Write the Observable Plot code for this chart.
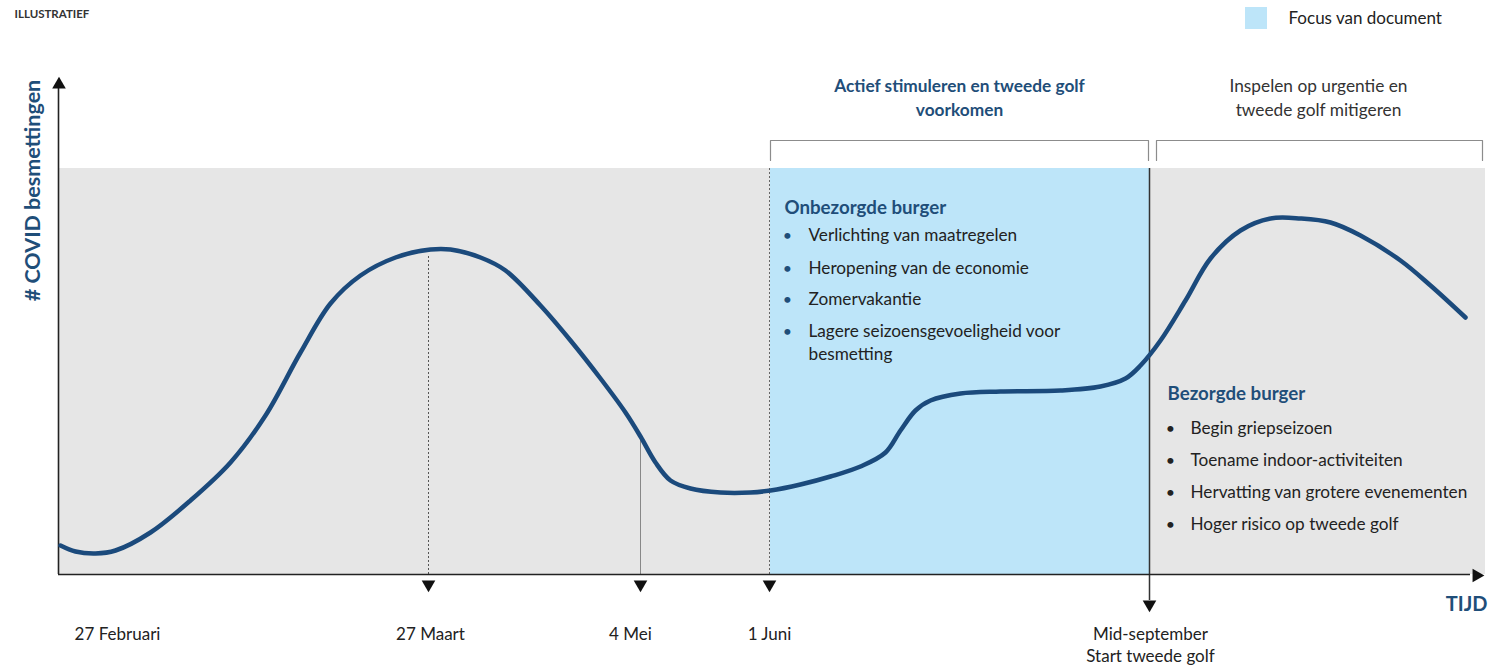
<!DOCTYPE html>
<html>
<head>
<meta charset="utf-8">
<script src="https://cdn.jsdelivr.net/npm/d3@7"></script>
<script src="https://cdn.jsdelivr.net/npm/@observablehq/plot@0.6"></script>
<style>
  html, body { margin: 0; padding: 0; background: #fff; }
  #chart svg { display: block; }
</style>
</head>
<body>
<div id="chart"></div>
<script>
// Illustrative curve (time index, # COVID infections, arbitrary units)
const curveT = [2, 17, 37, 57, 92, 132, 172, 207, 242, 272, 302, 337, 372, 392, 422, 447, 482, 512, 542, 567, 582, 597, 612, 632, 662, 692, 712, 742, 772, 802, 827, 842, 857, 872, 902, 942, 1002, 1042, 1067, 1082, 1102, 1127, 1152, 1182, 1212, 1242, 1272, 1302, 1342, 1372, 1407];
const curveV = [29, 23, 21, 24, 42, 74, 112, 159, 222, 271, 299, 317, 325, 325, 317, 304, 269, 234, 196, 162, 138, 112, 94, 86, 82, 82, 84, 90, 98, 108, 122, 144, 164, 174, 181, 183, 184, 188, 196, 209, 234, 274, 316, 344, 356, 356, 352, 339, 314, 289, 257];

// Milestones on the time axis
const milestoneLabels = ["27 Februari", "27 Maart", "4 Mei", "1 Juni", "Mid-september"];
const milestoneT = [59, 370, 582, 711, 1091];
const milestoneLabelT = [59, 372, 572, 711, 1092];

// Phases
const focusStart = 712, focusEnd = 1092, timeEnd = 1427, bgTop = 406;
const phaseTitles = [["Actief stimuleren en tweede golf", "voorkomen"], ["Inspelen op urgentie en", "tweede golf mitigeren"]];
const groupTitles = ["Onbezorgde burger", "Bezorgde burger"];
const bullets1 = ["Verlichting van maatregelen", "Heropening van de economie", "Zomervakantie", "Lagere seizoensgevoeligheid voor"];
const bullets1cont = ["besmetting"];
const bullets2 = ["Begin griepseizoen", "Toename indoor-activiteiten", "Hervatting van grotere evenementen", "Hoger risico op tweede golf"];

const FONT = "Lato, 'Open Sans', sans-serif";
const NAVY = "#1f4e79";
const CURVE = "#1b4a7c";
const BLUE = "#bde5f9";
const GRAY = "#e6e6e6";

const curve = curveT.map((t, i) => ({t, v: curveV[i]}));

// annotation tables
const b1 = bullets1.map((s, i) => ({t: 750, v: [339, 306, 275, 243][i], s}));
const b1c = bullets1cont.map(s => ({t: 750, v: 220, s}));
const b2 = bullets2.map((s, i) => ({t: 1132, v: [146, 114, 82, 50][i], s}));
const bracketPts = [
  {k: 0, t: focusStart, v: 414}, {k: 0, t: focusStart, v: 434}, {k: 0, t: focusEnd - 2, v: 434}, {k: 0, t: focusEnd - 2, v: 414},
  {k: 1, t: focusEnd + 6, v: 414}, {k: 1, t: focusEnd + 6, v: 434}, {k: 1, t: timeEnd - 3, v: 434}, {k: 1, t: timeEnd - 3, v: 414}
];

const plot = Plot.plot({
  width: 1488,
  height: 667,
  marginLeft: 58,
  marginRight: 2,
  marginTop: 74,
  marginBottom: 93,
  x: {domain: [0, 1428], axis: null},
  y: {domain: [0, 500], axis: null},
  style: {fontFamily: FONT, background: "#fff", overflow: "visible"},
  marks: [
    // background areas
    Plot.rectY([{a: 0, b: timeEnd}], {x1: "a", x2: "b", y1: 0, y2: bgTop, fill: GRAY}),
    Plot.rectY([{a: focusStart, b: focusEnd}], {x1: "a", x2: "b", y1: 0, y2: bgTop, fill: BLUE}),
    // milestone vertical lines
    Plot.ruleX([milestoneT[1]], {y1: 0, y2: 319, stroke: "#555", strokeWidth: 1, strokeDasharray: "2,2"}),
    Plot.ruleX([milestoneT[2]], {y1: 0, y2: 140, stroke: "#888", strokeWidth: 1}),
    Plot.ruleX([milestoneT[3]], {y1: 0, y2: bgTop, stroke: "#666", strokeWidth: 1, strokeDasharray: "2,2"}),
    Plot.ruleX([milestoneT[4]], {y1: -26, y2: bgTop, stroke: "#333", strokeWidth: 1.5}),
    // axes
    Plot.ruleX([0], {y1: 0, y2: 486, stroke: "#222", strokeWidth: 1.6}),
    Plot.ruleY([0], {x1: 0, x2: 1412, stroke: "#222", strokeWidth: 1.6}),
    Plot.dot([{t: 0.5, v: 490}], {x: "t", y: "v", symbol: "triangle2", r: 6.5, fill: "#111", stroke: "none"}),
    Plot.dot([{t: 1418, v: -1}], {x: "t", y: "v", symbol: "triangle2", r: 6.5, fill: "#111", stroke: "none", rotate: 90}),
    Plot.dot(milestoneT.slice(1, 4).map(t => ({t})), {x: "t", y: -10, symbol: "triangle2", r: 6.5, fill: "#111", stroke: "none", rotate: 180}),
    Plot.dot([{t: milestoneT[4]}], {x: "t", y: -30, symbol: "triangle2", r: 6.5, fill: "#111", stroke: "none", rotate: 180}),
    // brackets
    Plot.line(bracketPts, {x: "t", y: "v", z: "k", stroke: "#8c8c8c", strokeWidth: 1.2}),
    // curve
    Plot.line(curve, {x: "t", y: "v", curve: "catmull-rom", stroke: CURVE, strokeWidth: 4.5, strokeLinecap: "round"}),
    // date labels
    Plot.text(milestoneLabels.map((s, i) => ({s, t: milestoneLabelT[i]})), {x: "t", y: -60, text: "s", fontSize: 17, fill: "#222"}),
    Plot.text([{s: "Start tweede golf", t: milestoneLabelT[4]}], {x: "t", y: -82, text: "s", fontSize: 17, fill: "#222"}),
    Plot.text([{s: "TIJD"}], {x: 1429, y: -30, text: "s", textAnchor: "end", fontSize: 20, fontWeight: "bold", fill: NAVY}),
    // y label
    Plot.text([{s: "# COVID besmettingen"}], {x: -25, y: 384, text: "s", rotate: -90, fontSize: 21.5, fontWeight: "bold", fill: NAVY}),
    // title & legend
    Plot.text([{s: "ILLUSTRATIEF"}], {x: -44, y: 560, text: "s", textAnchor: "start", fontSize: 11.5, fontWeight: "bold", fill: "#333"}),
    Plot.rect([{a: 1187, b: 1209}], {x1: "a", x2: "b", y1: 545, y2: 567, fill: BLUE}),
    Plot.text([{s: "Focus van document"}], {x: 1230, y: 556, text: "s", textAnchor: "start", fontSize: 17, fill: "#222"}),
    // phase titles
    Plot.text(phaseTitles[0].map((s, i) => ({s, v: 488 - i * 24})), {x: 901, y: "v", text: "s", fontSize: 17.3, fontWeight: "bold", fill: NAVY}),
    Plot.text(phaseTitles[1].map((s, i) => ({s, v: 488 - i * 24})), {x: 1260, y: "v", text: "s", fontSize: 17.3, fill: "#333"}),
    // group titles
    Plot.text([{s: groupTitles[0]}], {x: 726, y: 366, text: "s", textAnchor: "start", fontSize: 18.7, fontWeight: "bold", fill: NAVY}),
    Plot.text([{s: groupTitles[1]}], {x: 1109, y: 180, text: "s", textAnchor: "start", fontSize: 18.7, fontWeight: "bold", fill: NAVY}),
    // bullets
    Plot.text(b1, {x: 729, y: "v", text: () => "•", fontSize: 16, fill: NAVY}),
    Plot.text(b1, {x: "t", y: "v", text: "s", textAnchor: "start", fontSize: 17.2, fill: "#222"}),
    Plot.text(b1c, {x: "t", y: "v", text: "s", textAnchor: "start", fontSize: 17.2, fill: "#222"}),
    Plot.text(b2, {x: 1112, y: "v", text: () => "•", fontSize: 16, fill: "#222"}),
    Plot.text(b2, {x: "t", y: "v", text: "s", textAnchor: "start", fontSize: 17.2, fill: "#222"})
  ]
});
document.getElementById("chart").appendChild(plot);
</script>
</body>
</html>
